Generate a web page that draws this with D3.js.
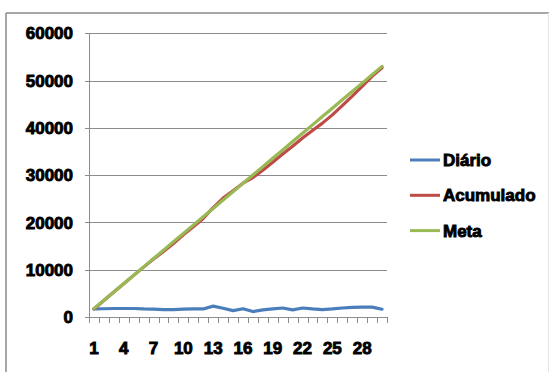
<!DOCTYPE html>
<html>
<head>
<meta charset="utf-8">
<script src="https://cdn.jsdelivr.net/npm/d3@7/dist/d3.min.js"></script>
<style>
  html, body { margin: 0; padding: 0; background: #fff; }
  svg { display: block; }
  .lbl { font-family: "Liberation Sans", Arial, sans-serif; font-weight: bold; fill: #000;
         stroke: #000; stroke-width: 0.9px; paint-order: stroke; }
</style>
</head>
<body>
<div id="chart"></div>
<script>
// Days of the month
const dias = d3.range(1, 31);
// Daily production
const diario = [1700, 1750, 1800, 1800, 1800, 1700, 1650, 1550, 1550, 1650,
                1700, 1700, 2300, 1850, 1350, 1750, 1150, 1500, 1700, 1900,
                1500, 1900, 1700, 1550, 1700, 1900, 2050, 2100, 2100, 1650];
// Running total
const acumulado = [1700, 3500, 5300, 7050, 8800, 10550, 12250, 13850, 15550, 17400,
                   19100, 20850, 23150, 25150, 26700, 28300, 29500, 31050, 32750, 34450,
                   36100, 37850, 39450, 41000, 42750, 44700, 46700, 48800, 50900, 52700];
// Target
const meta = [1767, 3533, 5300, 7067, 8833, 10600, 12367, 14133, 15900, 17667,
              19433, 21200, 22967, 24733, 26500, 28267, 30033, 31800, 33567, 35333,
              37100, 38867, 40633, 42400, 44167, 45933, 47700, 49467, 51233, 53000];
const yTicks = [0, 10000, 20000, 30000, 40000, 50000, 60000];
const xLabels = [1, 4, 7, 10, 13, 16, 19, 22, 25, 28];

const series = [
  { name: "Diário", values: diario, color: "#4A7EBB" },
  { name: "Acumulado", values: acumulado, color: "#BE4B48" },
  { name: "Meta", values: meta, color: "#98B954" }
];

const W = 550, H = 372;
const plot = { left: 89, right: 387, top: 33.3, bottom: 317 };

const svg = d3.select("#chart").append("svg").attr("width", W).attr("height", H);

// Chart frame
svg.append("line").attr("x1", 6).attr("x2", 549).attr("y1", 13).attr("y2", 13)
  .attr("stroke", "#8a8a8a").attr("stroke-width", 1.5);
svg.append("line").attr("x1", 6).attr("x2", 6).attr("y1", 13).attr("y2", H)
  .attr("stroke", "#8a8a8a").attr("stroke-width", 1.5);
svg.append("line").attr("x1", 548.5).attr("x2", 548.5).attr("y1", 13).attr("y2", H)
  .attr("stroke", "#e4e4e4").attr("stroke-width", 1);

const x = d3.scaleBand().domain(dias).range([plot.left, plot.right]).padding(0);
const y = d3.scaleLinear().domain([0, 60000]).range([plot.bottom, plot.top]);
const cx = d => x(d) + x.bandwidth() / 2;

// Horizontal gridlines
svg.append("g").selectAll("line").data(yTicks).join("line")
  .attr("x1", plot.left - 4).attr("x2", plot.right)
  .attr("y1", d => Math.round(y(d)) + 0.5).attr("y2", d => Math.round(y(d)) + 0.5)
  .attr("stroke", "#8c8c8c").attr("stroke-width", 1);

// Vertical axis line
svg.append("line").attr("x1", plot.left + 0.5).attr("x2", plot.left + 0.5)
  .attr("y1", plot.top).attr("y2", plot.bottom)
  .attr("stroke", "#8c8c8c").attr("stroke-width", 1);

// Category tick marks between days
const edges = dias.map(d => x(d)).concat([plot.right]);
svg.append("g").selectAll("line").data(edges).join("line")
  .attr("x1", d => Math.round(d) + 0.5).attr("x2", d => Math.round(d) + 0.5)
  .attr("y1", plot.bottom).attr("y2", plot.bottom + 6)
  .attr("stroke", "#8c8c8c").attr("stroke-width", 1);

// Y labels
svg.append("g").selectAll("text").data(yTicks).join("text")
  .attr("class", "lbl")
  .attr("x", 73).attr("y", d => y(d)).attr("dy", "0.36em")
  .attr("text-anchor", "end").attr("font-size", 17)
  .text(d => d);

// X labels
svg.append("g").selectAll("text").data(xLabels).join("text")
  .attr("class", "lbl")
  .attr("x", d => cx(d)).attr("y", 354)
  .attr("text-anchor", "middle").attr("font-size", 17)
  .text(d => d);

// Series lines
const line = d3.line().x((v, i) => cx(dias[i])).y(v => y(v)).curve(d3.curveLinear);
svg.append("g").selectAll("path").data(series).join("path")
  .attr("d", s => line(s.values))
  .attr("fill", "none").attr("stroke", s => s.color)
  .attr("stroke-width", 3.2).attr("stroke-linejoin", "round").attr("stroke-linecap", "round");

// Legend
const lg = svg.append("g").selectAll("g").data(series).join("g")
  .attr("transform", (s, i) => `translate(410, ${160 + i * 35.3})`);
lg.append("line").attr("x1", 0).attr("x2", 30).attr("y1", 0).attr("y2", 0)
  .attr("stroke", s => s.color).attr("stroke-width", 3);
lg.append("text").attr("class", "lbl")
  .attr("x", 33).attr("y", 0).attr("dy", "0.36em").attr("font-size", 17)
  .text(s => s.name);
</script>
</body>
</html>
